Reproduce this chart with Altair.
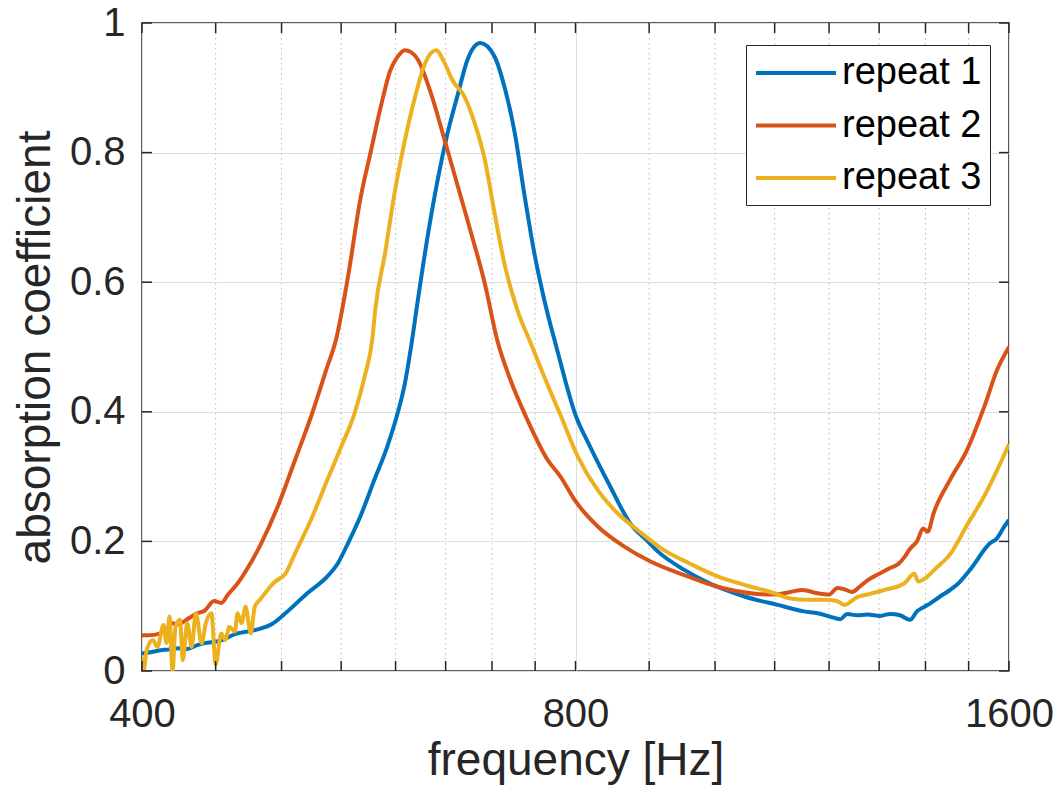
import altair as alt
import pandas as pd

# ---------------- data ----------------
series_names = ["repeat 1", "repeat 2", "repeat 3"]
series_colors = ["#0072BD", "#D95319", "#EDB120"]

freq_1 = [400, 408, 412, 417, 424, 430, 437, 442, 452, 466, 479, 492, 503, 521, 538, 547,
          556, 567, 580, 592, 602, 609, 615, 622, 632, 642, 652, 663, 673, 687, 703, 714,
          726, 737, 749, 761, 777, 800, 819, 846, 873, 898, 912, 952, 992, 1048, 1105, 1153,
          1178, 1202, 1222, 1235, 1255, 1276, 1302, 1323, 1344, 1366, 1381, 1397, 1410, 1433,
          1456, 1472, 1503, 1552, 1570, 1587, 1600]
alpha_1 = [0.027, 0.030, 0.032, 0.033, 0.035, 0.034, 0.040, 0.043, 0.046, 0.058, 0.063, 0.072,
           0.089, 0.120, 0.146, 0.166, 0.197, 0.238, 0.295, 0.346, 0.398, 0.444, 0.500, 0.575,
           0.675, 0.760, 0.830, 0.891, 0.943, 0.969, 0.948, 0.902, 0.830, 0.737, 0.645, 0.573,
           0.495, 0.395, 0.346, 0.284, 0.228, 0.200, 0.185, 0.156, 0.135, 0.115, 0.102, 0.092,
           0.089, 0.084, 0.080, 0.088, 0.086, 0.087, 0.085, 0.088, 0.086, 0.079, 0.092, 0.099,
           0.104, 0.115, 0.125, 0.133, 0.156, 0.197, 0.205, 0.222, 0.233]

freq_2 = [400, 404, 412, 417, 419, 424, 430, 437, 442, 449, 454, 459, 466, 474, 484, 497,
          511, 524, 538, 545, 556, 567, 577, 586, 595, 602, 609, 615, 622, 635, 649, 663,
          677, 692, 706, 721, 741, 765, 781, 800, 829, 865, 902, 952, 1004, 1070, 1100, 1128,
          1150, 1178, 1200, 1216, 1230, 1245, 1260, 1276, 1300, 1323, 1340, 1353, 1365, 1381,
          1395, 1405, 1419, 1456, 1496, 1538, 1570, 1600]
alpha_2 = [0.055, 0.055, 0.058, 0.066, 0.074, 0.072, 0.080, 0.089, 0.093, 0.108, 0.105, 0.118,
           0.135, 0.160, 0.197, 0.254, 0.326, 0.392, 0.470, 0.508, 0.608, 0.727, 0.804, 0.871,
           0.927, 0.948, 0.958, 0.955, 0.943, 0.891, 0.819, 0.747, 0.676, 0.598, 0.510, 0.449,
           0.387, 0.326, 0.300, 0.262, 0.223, 0.192, 0.169, 0.148, 0.130, 0.119, 0.118, 0.122,
           0.125, 0.120, 0.118, 0.128, 0.126, 0.122, 0.130, 0.140, 0.150, 0.159, 0.165, 0.175,
           0.188, 0.200, 0.220, 0.215, 0.245, 0.295, 0.341, 0.408, 0.465, 0.500]

freq_3 = [400, 401, 403, 407, 410, 414, 416, 418, 420, 422, 425, 427, 430, 433, 436, 440,
          443, 447, 450, 454, 457, 460, 464, 466, 469, 472, 476, 479, 483, 487, 491, 495,
          503, 511, 524, 538, 550, 562, 571, 578, 581, 590, 599, 609, 619, 629, 640, 649,
          657, 670, 681, 692, 703, 714, 729, 745, 761, 781, 803, 829, 856, 883, 921, 960,
          1004, 1048, 1100, 1128, 1159, 1191, 1215, 1230, 1255, 1276, 1311, 1353, 1375, 1384,
          1397, 1426, 1456, 1496, 1538, 1570, 1600]
alpha_3 = [0.022, 0.000, 0.032, 0.048, 0.037, 0.071, 0.043, 0.084, 0.000, 0.068, 0.079, 0.017,
           0.074, 0.037, 0.089, 0.043, 0.074, 0.089, 0.010, 0.058, 0.048, 0.068, 0.061, 0.089,
           0.074, 0.099, 0.058, 0.099, 0.110, 0.120, 0.130, 0.138, 0.150, 0.182, 0.233, 0.295,
           0.346, 0.398, 0.454, 0.511, 0.560, 0.645, 0.737, 0.819, 0.886, 0.938, 0.958, 0.938,
           0.912, 0.886, 0.845, 0.789, 0.706, 0.629, 0.557, 0.505, 0.454, 0.395, 0.331, 0.279,
           0.243, 0.218, 0.187, 0.166, 0.146, 0.133, 0.120, 0.112, 0.110, 0.110, 0.108, 0.102,
           0.114, 0.118, 0.125, 0.135, 0.150, 0.138, 0.142, 0.160, 0.180, 0.225, 0.270, 0.310,
           0.350]

x_major = [400, 800, 1600]
x_minor = [450, 500, 550, 600, 650, 700, 750, 900, 1000, 1100, 1200, 1300, 1400, 1500]
y_ticks = [0, 0.2, 0.4, 0.6, 0.8, 1]

# ---------------- styling ----------------
W, H = 867, 648
FONT = "Liberation Sans"
INK = "#262626"
TICK_LEN = 10

rows = []
for name, fs, vs in zip(series_names, [freq_1, freq_2, freq_3], [alpha_1, alpha_2, alpha_3]):
    for f, v in zip(fs, vs):
        rows.append({"series": name, "freq": f, "alpha": v})
df = pd.DataFrame(rows)

df_xt = pd.DataFrame({"freq": x_major + x_minor})
df_xminor = pd.DataFrame({"freq": x_minor})
df_yt = pd.DataFrame({"alpha": y_ticks})

x_scale = alt.Scale(type="log", domain=[400, 1600], nice=False)
y_scale = alt.Scale(domain=[0, 1], nice=False)
x_axis = alt.Axis(values=x_major, title="frequency [Hz]", format="d", labelFlush=False,
                  labelPadding=23, titlePadding=4)
y_axis = alt.Axis(values=y_ticks, title="absorption coefficient", format="~g",
                  labelPadding=17, titlePadding=10)

X = alt.X("freq:Q", scale=x_scale, axis=x_axis)
Y = alt.Y("alpha:Q", scale=y_scale, axis=y_axis)

minor_grid = alt.Chart(df_xminor).mark_rule(
    color="#b8b8b8", strokeWidth=1, strokeDash=[1.5, 3.5]
).encode(x=X)

lines = alt.Chart(df).mark_line(strokeWidth=4, clip=True, interpolate="monotone").encode(
    x=X, y=Y,
    color=alt.Color("series:N",
                    scale=alt.Scale(domain=series_names, range=series_colors),
                    legend=alt.Legend(title=None, orient="none", legendX=604, legendY=22,
                                      symbolType="M-1,0H3.444", symbolSize=1296,
                                      symbolStrokeWidth=4, labelFontSize=38,
                                      labelFont=FONT, labelColor="#000000",
                                      labelOffset=48, rowPadding=13.5, padding=8,
                                      strokeColor=INK, fillColor="#ffffff")),
)

tick_style = dict(color=INK, strokeWidth=1.5)
x_bottom = alt.Chart(df_xt).mark_rule(**tick_style).encode(
    x=X, y=alt.value(H), y2=alt.value(H - TICK_LEN))
x_top = alt.Chart(df_xt).mark_rule(**tick_style).encode(
    x=X, y=alt.value(0), y2=alt.value(TICK_LEN))
y_left = alt.Chart(df_yt).mark_rule(**tick_style).encode(
    y=Y, x=alt.value(0), x2=alt.value(TICK_LEN))
y_right = alt.Chart(df_yt).mark_rule(**tick_style).encode(
    y=Y, x=alt.value(W), x2=alt.value(W - TICK_LEN))

chart = alt.layer(minor_grid, lines, x_bottom, x_top, y_left, y_right).properties(
    width=W, height=H,
    autosize=alt.AutoSizeParams(type="none"),
    padding={"left": 134, "top": 15, "right": 46, "bottom": 118},
).configure_view(
    stroke=INK, strokeWidth=1.5
).configure_axis(
    labelFont=FONT, titleFont=FONT, labelFontSize=40, titleFontSize=46,
    labelColor=INK, titleColor=INK, titleFontWeight="normal",
    ticks=False, domain=False, grid=True, gridColor="#dedede", gridWidth=1,
)

chart.save("out.html", embed_options={"renderer": "svg", "actions": False})
